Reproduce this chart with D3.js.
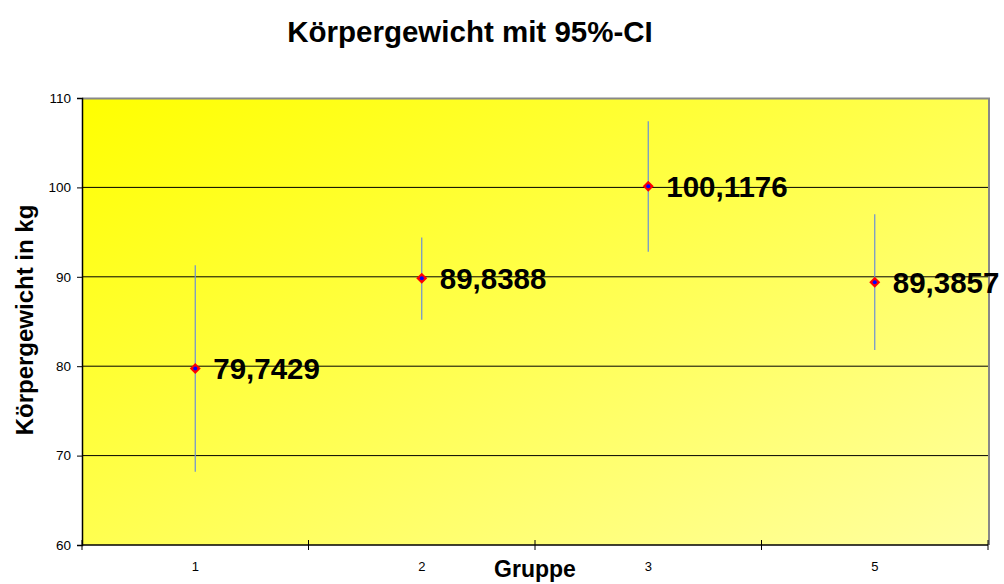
<!DOCTYPE html>
<html>
<head>
<meta charset="utf-8">
<script src="https://cdn.jsdelivr.net/npm/d3@7"></script>
<style>
  body { margin: 0; background: #fff; }
  svg { font-family: "Liberation Sans", Arial, sans-serif; }
</style>
</head>
<body>
<div id="chart"></div>
<script>
// Chart data
const groups = ['1', '2', '3', '5'];
const means = [79.7429, 89.8388, 100.1176, 89.3857];
const ciLow = [68.2, 85.2, 92.8, 81.8];
const ciHigh = [91.3, 94.4, 107.4, 97.0];
const yTicks = [60, 70, 80, 90, 100, 110];

const width = 1004;
const height = 584;
const margin = { top: 98, right: 16, bottom: 39, left: 82 };
const innerW = width - margin.left - margin.right;
const innerH = height - margin.top - margin.bottom;

const svg = d3.select('#chart').append('svg')
  .attr('width', width)
  .attr('height', height);

const defs = svg.append('defs');
const grad = defs.append('linearGradient')
  .attr('id', 'bg')
  .attr('x1', '0%').attr('y1', '0%')
  .attr('x2', '100%').attr('y2', '100%');
grad.append('stop').attr('offset', '0%').attr('stop-color', '#ffff00');
grad.append('stop').attr('offset', '100%').attr('stop-color', '#ffffa0');

const x = d3.scaleBand().domain(groups).range([0, innerW]);
const y = d3.scaleLinear().domain([60, 110]).range([innerH, 0]);

const g = svg.append('g').attr('transform', `translate(${margin.left},${margin.top})`);

// plot background
g.append('rect')
  .attr('width', innerW)
  .attr('height', innerH)
  .attr('fill', 'url(#bg)');

// gridlines
g.selectAll('.grid')
  .data(yTicks.filter(t => t > 60 && t < 110))
  .enter().append('line')
  .attr('x1', 0).attr('x2', innerW)
  .attr('y1', d => y(d)).attr('y2', d => y(d))
  .attr('stroke', '#000').attr('stroke-width', 1);

// top and right frame (gray)
g.append('path')
  .attr('d', `M0,0.5H${innerW + 1}V${innerH}`)
  .attr('fill', 'none')
  .attr('stroke', '#888')
  .attr('stroke-width', 2);

// y axis
const yAxis = g.append('g')
  .call(d3.axisLeft(y).tickValues(yTicks).tickSize(5).tickPadding(6));
yAxis.select('.domain').attr('stroke', '#000').attr('stroke-width', 1.5);
yAxis.selectAll('text').attr('font-size', 13.5).attr('fill', '#000')
  .attr('font-family', '"Liberation Sans", Arial, sans-serif');

// x axis: ticks between categories, labels centered
const xAxis = g.append('g').attr('transform', `translate(0,${innerH})`);
xAxis.append('line')
  .attr('x1', 0).attr('x2', innerW)
  .attr('stroke', '#000').attr('stroke-width', 1.5);
const boundaries = groups.map(d => x(d)).concat([innerW]);
xAxis.selectAll('.tk')
  .data(boundaries)
  .enter().append('line')
  .attr('x1', d => d).attr('x2', d => d)
  .attr('y1', -5).attr('y2', 5)
  .attr('stroke', '#000');
xAxis.selectAll('.lbl')
  .data(groups)
  .enter().append('text')
  .attr('x', d => x(d) + x.bandwidth() / 2)
  .attr('y', 26)
  .attr('text-anchor', 'middle')
  .attr('font-size', 13)
  .text(d => d);

// error bars
g.selectAll('.err')
  .data(groups)
  .enter().append('line')
  .attr('x1', d => x(d) + x.bandwidth() / 2)
  .attr('x2', d => x(d) + x.bandwidth() / 2)
  .attr('y1', (d, i) => y(ciHigh[i]))
  .attr('y2', (d, i) => y(ciLow[i]))
  .attr('stroke', '#6b8fd6')
  .attr('stroke-width', 1.2);

// markers
const pts = g.selectAll('.pt')
  .data(groups)
  .enter().append('g')
  .attr('transform', (d, i) => `translate(${x(d) + x.bandwidth() / 2},${y(means[i])})`);
pts.append('path')
  .attr('d', 'M0,-5.5L5.5,0L0,5.5L-5.5,0Z')
  .attr('fill', '#ff0000');
pts.append('circle')
  .attr('r', 2)
  .attr('fill', '#0000ff');

// value labels
pts.append('text')
  .attr('x', 18)
  .attr('y', 11)
  .attr('font-size', 29.5)
  .attr('font-weight', 'bold')
  .text((d, i) => means[i].toFixed(4).replace('.', ','));

// title
svg.append('text')
  .attr('x', 470).attr('y', 42)
  .attr('text-anchor', 'middle')
  .attr('font-size', 29.5)
  .attr('font-weight', 'bold')
  .text('Körpergewicht mit 95%-CI');

// axis titles
svg.append('text')
  .attr('transform', `translate(33,320) rotate(-90)`)
  .attr('text-anchor', 'middle')
  .attr('font-size', 24)
  .attr('font-weight', 'bold')
  .text('Körpergewicht in kg');

svg.append('text')
  .attr('x', margin.left + innerW / 2)
  .attr('y', 577)
  .attr('text-anchor', 'middle')
  .attr('font-size', 23)
  .attr('font-weight', 'bold')
  .text('Gruppe');
</script>
</body>
</html>
